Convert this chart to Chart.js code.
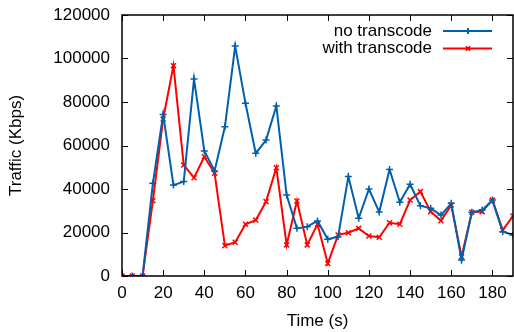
<!DOCTYPE html>
<html>
<head>
<meta charset="utf-8">
<script src="https://cdn.jsdelivr.net/npm/chart.js@4/dist/chart.umd.min.js"></script>
<style>
  body { margin: 0; background: #fff; }
</style>
</head>
<body>
<canvas id="chart" width="514" height="332"></canvas>
<script>
// data (time in s, traffic in Kbps)
var times = [0, 5, 10, 15, 20, 25, 30, 35, 40, 45, 50, 55, 60, 65, 70, 75, 80, 85, 90, 95,
  100, 105, 110, 115, 120, 125, 130, 135, 140, 145, 150, 155, 160, 165, 170, 175, 180, 185, 190];
var noTranscode = [0, 0, 0, 42600, 74300, 41800, 43400, 90600, 57500, 48300, 68600, 105700, 79400, 56400, 62500, 78200, 37200, 21900, 22700, 25300,
  16900, 18100, 45700, 26500, 40000, 29400, 49000, 33900, 42200, 32300, 31100, 28000, 33400, 7400, 29300, 30300, 34900, 20400, 18900];
var withTranscode = [0, 0, 0, 34600, 72200, 96700, 51000, 45200, 54800, 47200, 13900, 15500, 23800, 25700, 34200, 49800, 14300, 34500, 14300, 23800,
  5800, 18900, 19900, 21900, 18400, 17800, 24500, 23800, 34900, 38800, 29600, 25400, 32600, 8900, 29300, 29600, 34900, 21100, 27600];
var xTicks = [0, 20, 40, 60, 80, 100, 120, 140, 160, 180];
var yTicks = [0, 20000, 40000, 60000, 80000, 100000, 120000];

var blue = 'rgb(0, 96, 173)';
var red = 'rgb(255, 0, 0)';
var font = 'Liberation Sans';
var fsize = 17;

function pts(vals) {
  return times.map(function (t, i) { return { x: t, y: vals[i] }; });
}

// gnuplot style frame with inward ticks
var framePlugin = {
  id: 'frame',
  afterDraw: function (chart) {
    var c = chart.ctx, a = chart.chartArea;
    var xs = chart.scales.x, ys = chart.scales.y;
    c.save();
    c.strokeStyle = '#000';
    c.lineWidth = 1;
    c.beginPath();
    xTicks.forEach(function (v) {
      var px = Math.round(xs.getPixelForValue(v)) + 0.5;
      c.moveTo(px, a.bottom); c.lineTo(px, a.bottom - 6);
      c.moveTo(px, a.top); c.lineTo(px, a.top + 6);
    });
    yTicks.forEach(function (v) {
      var py = Math.round(ys.getPixelForValue(v)) + 0.5;
      c.moveTo(a.left, py); c.lineTo(a.left + 6, py);
      c.moveTo(a.right, py); c.lineTo(a.right - 6, py);
    });
    c.stroke();
    c.lineWidth = 1.5;
    c.strokeRect(a.left, a.top, a.right - a.left, a.bottom - a.top);

    // legend: text then line sample
    c.font = fsize + 'px "' + font + '"';
    c.textAlign = 'right';
    c.textBaseline = 'middle';
    chart.data.datasets.forEach(function (ds, i) {
      var y = 31 + i * 17.5;
      c.fillStyle = '#000';
      c.fillText(ds.label, 432, y);
      c.strokeStyle = ds.borderColor;
      c.lineWidth = 2;
      c.beginPath();
      c.moveTo(443, y); c.lineTo(492, y);
      c.stroke();
      Chart.helpers.drawPoint(c, { pointStyle: ds.pointStyle, radius: 3, borderWidth: 1.5 }, 468, y);
    });
    c.restore();
  }
};

new Chart(document.getElementById('chart'), {
  type: 'line',
  data: {
    datasets: [{
      label: 'no transcode',
      data: pts(noTranscode),
      borderColor: blue,
      backgroundColor: blue,
      pointStyle: 'cross',
      pointRadius: 3.5,
      pointBorderWidth: 1.5,
      borderWidth: 2,
      tension: 0
    }, {
      label: 'with transcode',
      data: pts(withTranscode),
      borderColor: red,
      backgroundColor: red,
      pointStyle: 'crossRot',
      pointRadius: 3.5,
      pointBorderWidth: 1.5,
      borderWidth: 2,
      tension: 0
    }]
  },
  options: {
    responsive: false,
    animation: false,
    devicePixelRatio: 1,
    layout: { autoPadding: false, padding: { top: 15, right: 1, left: 0, bottom: 0 } },
    plugins: {
      legend: { display: false },
      tooltip: { enabled: false }
    },
    scales: {
      x: {
        type: 'linear',
        min: 0,
        max: 190,
        grid: { display: false, drawTicks: false },
        border: { display: false },
        afterBuildTicks: function (s) { s.ticks = xTicks.map(function (v) { return { value: v }; }); },
        afterFit: function (s) { s.height = 56; s.paddingLeft = 0; s.paddingRight = 0; },
        ticks: { color: '#000', padding: 7, maxRotation: 0, font: { family: font, size: fsize } },
        title: { display: true, text: 'Time (s)', color: '#000', padding: { top: 0, bottom: 0 }, font: { family: font, size: fsize } }
      },
      y: {
        min: 0,
        max: 120000,
        grid: { display: false, drawTicks: false },
        border: { display: false },
        afterBuildTicks: function (s) { s.ticks = yTicks.map(function (v) { return { value: v }; }); },
        afterFit: function (s) { s.width = 122; s.paddingTop = 0; s.paddingBottom = 0; },
        ticks: {
          color: '#000', padding: 12, font: { family: font, size: fsize },
          callback: function (v) { return String(v); }
        },
        title: { display: true, text: 'Traffic (Kbps)', color: '#000', padding: { top: 6, bottom: 6 }, font: { family: font, size: fsize } }
      }
    }
  },
  plugins: [framePlugin]
});
</script>
</body>
</html>
